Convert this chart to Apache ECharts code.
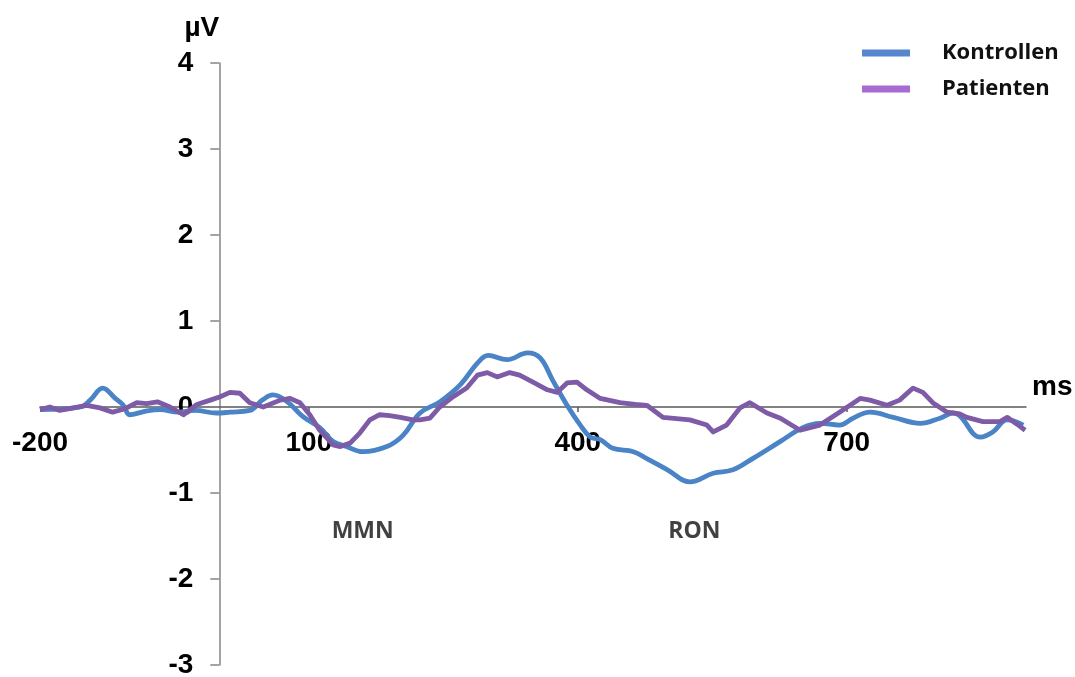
<!DOCTYPE html>
<html>
<head>
<meta charset="utf-8">
<script src="https://cdn.jsdelivr.net/npm/echarts@6/dist/echarts.min.js"></script>
<style>
html,body{margin:0;padding:0;background:#fff;}
#chart{width:1075px;height:677px;}
</style>
</head>
<body>
<div id="chart"></div>
<script>
// ---- data ----
const seriesNames = ['Kontrollen', 'Patienten'];

const kontrollenTime = [-200,-155,-144,-130,-116,-107,-100,-83,-66,-46,-27,-3,12,34,48,60,76,93,112,127,142,160,187,205,224,246,269,288,300,321,344,358,372,388,402,414,425,439,462,477,500,525,551,573,595,626,651,670,692,707,726,752,782,804,819,826,849,863,879,897];
const kontrollenValue = [-0.03,0.0,0.08,0.22,0.1,0.02,-0.09,-0.05,-0.03,-0.06,-0.04,-0.07,-0.06,-0.04,0.08,0.14,0.06,-0.11,-0.24,-0.4,-0.46,-0.52,-0.46,-0.33,-0.07,0.06,0.26,0.51,0.6,0.55,0.63,0.57,0.31,0.02,-0.2,-0.35,-0.38,-0.48,-0.52,-0.6,-0.73,-0.87,-0.77,-0.73,-0.6,-0.4,-0.24,-0.19,-0.21,-0.13,-0.06,-0.12,-0.19,-0.13,-0.07,-0.1,-0.35,-0.29,-0.15,-0.21];

const patientenTime = [-200,-189,-178,-167,-148,-133,-119,-105,-92,-81,-69,-55,-40,-25,-10,1,12,23,34,49,68,79,90,101,112,127,135,146,157,168,179,190,202,216,224,235,246,261,276,288,299,310,324,335,350,366,377,388,399,410,425,447,464,477,495,525,544,551,566,581,592,611,626,648,670,692,715,726,745,759,774,785,796,812,826,834,852,871,879,890,899];
const patientenValue = [-0.03,0.0,-0.04,-0.02,0.02,-0.01,-0.06,-0.02,0.05,0.04,0.06,0.0,-0.09,0.03,0.08,0.12,0.17,0.16,0.05,0.0,0.08,0.1,0.05,-0.09,-0.27,-0.44,-0.46,-0.42,-0.3,-0.15,-0.09,-0.1,-0.12,-0.15,-0.15,-0.13,0.0,0.12,0.22,0.37,0.4,0.35,0.4,0.37,0.29,0.2,0.17,0.28,0.29,0.2,0.1,0.05,0.03,0.02,-0.12,-0.15,-0.21,-0.29,-0.21,-0.01,0.05,-0.07,-0.13,-0.27,-0.21,-0.06,0.1,0.08,0.02,0.08,0.22,0.17,0.05,-0.06,-0.08,-0.12,-0.17,-0.17,-0.12,-0.2,-0.27];

const xTickLabels = [-200, 100, 400, 700];
const xTickMarks = [100, 400, 700];
const yTicks = [-3, -2, -1, 0, 1, 2, 3, 4];

const annotationLabels = ['MMN', 'RON'];
const annotationX = [160, 530];
const annotationY = [-1.45, -1.45];

// ---- chart ----
const zip = (a, b) => a.map((t, i) => [t, b[i]]);
const chart = echarts.init(document.getElementById('chart'));
const tickFont = {fontFamily: 'Liberation Sans, Arial, sans-serif', fontWeight: 'bold', fontSize: 28, color: '#000'};
const GRID = {left: 40, right: 49, top: 63, bottom: 12};

chart.setOption({
  animation: false,
  backgroundColor: '#fff',
  grid: Object.assign({containLabel: false, outerBoundsMode: 'none'}, GRID),
  legend: {
    orient: 'vertical',
    left: 857, top: 37,
    itemWidth: 48, itemHeight: 7, itemGap: 14,
    icon: 'rect',
    textStyle: {fontFamily: 'Open Sans, Liberation Sans, sans-serif', fontWeight: 'bold', fontSize: 22, color: '#111', padding: [0, 0, 0, 27]},
    data: [
      {name: seriesNames[0], itemStyle: {color: '#5786D0'}},
      {name: seriesNames[1], itemStyle: {color: '#A86BD4'}}
    ]
  },
  xAxis: {
    type: 'value', min: -200, max: 900, interval: 100, position: 'bottom',
    name: 'ms', nameLocation: 'end', nameGap: 6,
    nameTextStyle: Object.assign({}, tickFont, {verticalAlign: 'bottom', padding: [0, 0, 6, 0]}),
    axisLine: {onZero: false, lineStyle: {color: '#5a5a5a', width: 1.5}},
    axisTick: {show: true, length: 5, customValues: xTickMarks, lineStyle: {color: '#5a5a5a', width: 1.5}},
    axisLabel: Object.assign({}, tickFont, {margin: 22, customValues: xTickLabels}),
    splitLine: {show: false}
  },
  yAxis: {
    type: 'value', min: -3, max: 4, interval: 1, position: 'left',
    name: 'µV', nameLocation: 'end', nameGap: 21,
    nameTextStyle: Object.assign({}, tickFont, {align: 'right'}),
    axisLine: {onZero: false, lineStyle: {color: '#868686', width: 1.5}},
    axisTick: {show: true, length: 9, lineStyle: {color: '#868686', width: 1.5}},
    axisLabel: Object.assign({}, tickFont, {margin: 26, customValues: yTicks}),
    splitLine: {show: false}
  },
  series: [
    {
      name: seriesNames[0], type: 'line', smooth: 0.4, showSymbol: false,
      data: zip(kontrollenTime, kontrollenValue),
      lineStyle: {color: '#4A84C6', width: 4.8}, itemStyle: {color: '#4A84C6'}
    },
    {
      name: seriesNames[1], type: 'line', smooth: false, showSymbol: false,
      data: zip(patientenTime, patientenValue),
      lineStyle: {color: '#7E5BA6', width: 4.8, join: 'round'}, itemStyle: {color: '#7E5BA6'}
    },
    {
      type: 'scatter', symbolSize: 0, silent: true,
      data: annotationLabels.map((l, i) => ({name: l, value: [annotationX[i], annotationY[i]]})),
      label: {show: true, position: 'inside', formatter: p => p.name,
        fontFamily: 'Open Sans, Liberation Sans, sans-serif', fontWeight: 'bold', fontSize: 23, color: '#111'}
    }
  ]
});

// place the axes through zero, using the library's own scales
const x0 = chart.convertToPixel({xAxisIndex: 0}, 0);
const y0 = chart.convertToPixel({yAxisIndex: 0}, 0);
const H = chart.getHeight();
chart.setOption({
  yAxis: {offset: -(x0 - GRID.left)},
  xAxis: {offset: -((H - GRID.bottom) - y0)}
});
</script>
</body>
</html>
